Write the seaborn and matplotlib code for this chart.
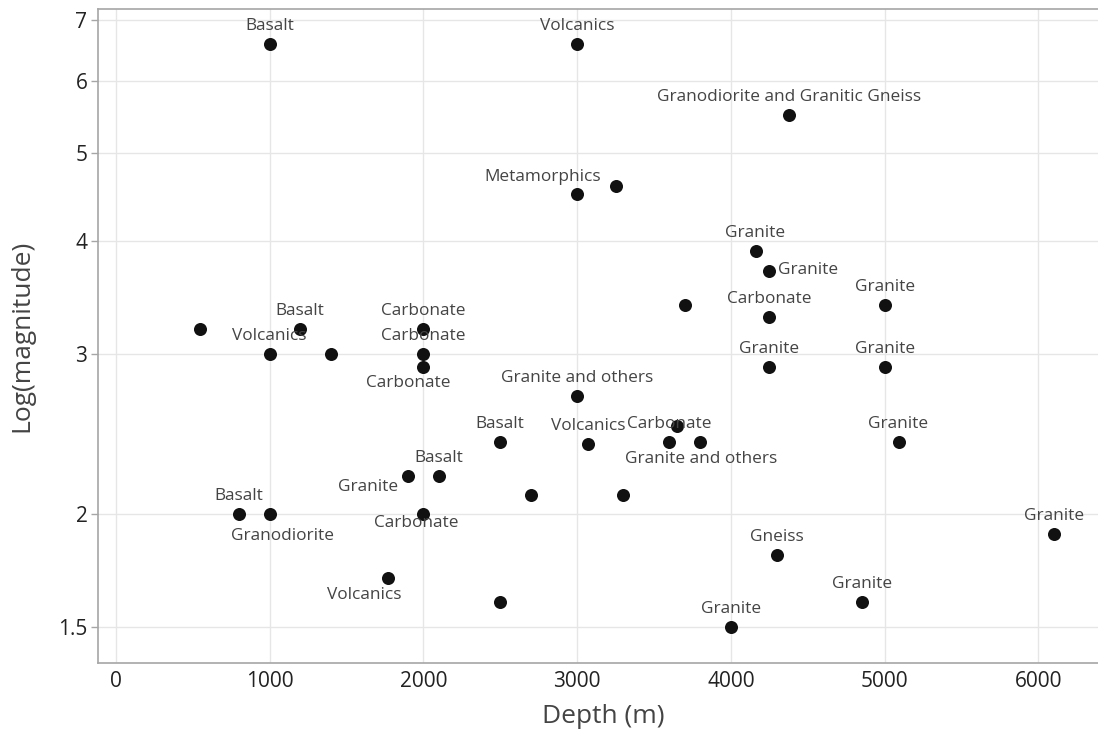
import matplotlib
matplotlib.use("Agg")
import matplotlib.pyplot as plt
import seaborn as sns
import pandas as pd

# Depth (m) and magnitude of each sample, with its rock type
depth = [1000, 3000, 4380, 3000, 3250, 4160, 4250, 3700, 4250, 5000,
         4250, 5000, 550, 1200, 1000, 1400, 2000, 2000, 2000, 3000,
         2500, 3070, 3650, 3600, 3800, 5090, 1900, 2100, 2700, 3300,
         800, 1000, 2000, 6100, 4300, 1770, 2500, 4850, 4000]
magnitude = [6.6, 6.6, 5.5, 4.5, 4.6, 3.9, 3.7, 3.4, 3.3, 3.4,
             2.9, 2.9, 3.2, 3.2, 3.0, 3.0, 3.2, 3.0, 2.9, 2.7,
             2.4, 2.39, 2.5, 2.4, 2.4, 2.4, 2.2, 2.2, 2.1, 2.1,
             2.0, 2.0, 2.0, 1.9, 1.8, 1.7, 1.6, 1.6, 1.5]
rock = ["Basalt", "Volcanics", "Granodiorite and Granitic Gneiss", "Metamorphics", "",
        "Granite", "Granite", "", "Carbonate", "Granite",
        "Granite", "Granite", "", "Basalt", "Volcanics",
        "", "Carbonate", "Carbonate", "Carbonate", "Granite and others",
        "Basalt", "Volcanics", "", "Carbonate", "Granite and others",
        "Granite", "Granite", "Basalt", "", "",
        "Basalt", "Granodiorite", "Carbonate", "Granite", "Gneiss",
        "Volcanics", "", "Granite", "Granite"]

y_ticks = [1.5, 2, 3, 4, 5, 6, 7]
y_tick_labels = ["1.5", "2", "3", "4", "5", "6", "7"]
x_ticks = [0, 1000, 2000, 3000, 4000, 5000, 6000]

# label placement relative to its marker: (dx px, dy px, horizontal alignment)
TOP = (0, 14, "center")
placement = [TOP, TOP, TOP, (-34, 13, "center"), None,
             TOP, (9, -3, "left"), None, TOP, TOP,
             TOP, TOP, None, TOP, TOP,
             None, TOP, TOP, (-15, -20, "center"), TOP,
             TOP, TOP, None, TOP, (1, -21, "center"),
             TOP, (-10, -15, "right"), TOP, None, None,
             TOP, (13, -26, "center"), (-7, -13, "center"), TOP, TOP,
             (-24, -21, "center"), None, TOP, TOP]

df = pd.DataFrame({"Depth (m)": depth, "Log(magnitude)": magnitude, "Rock": rock})

sns.set_theme(style="white")
plt.rcParams["font.family"] = ["Open Sans", "DejaVu Sans"]

fig = plt.figure(figsize=(10.98, 7.31), dpi=100)
ax = fig.add_axes([0.0897, 0.093, 1.0 - 0.0897, 0.9877 - 0.093])

sns.scatterplot(data=df, x="Depth (m)", y="Log(magnitude)", ax=ax,
                color="#111111", s=88, linewidth=0, zorder=3)

ax.set_yscale("log")
ax.set_xlim(-112, 6387)
ax.set_ylim(1.369, 7.206)
ax.set_yticks(y_ticks)
ax.set_yticklabels(y_tick_labels)
ax.yaxis.set_minor_locator(matplotlib.ticker.NullLocator())
ax.set_xticks(x_ticks)
ax.set_xticklabels([str(t) for t in x_ticks])

ax.grid(True, color="#e6e6e6", linewidth=1.0, zorder=0)
ax.set_axisbelow(True)

for side in ["left", "bottom", "top"]:
    ax.spines[side].set_visible(True)
    ax.spines[side].set_color("#a6a6a6")
    ax.spines[side].set_linewidth(1.2)
ax.spines["right"].set_visible(False)

ax.tick_params(axis="y", which="major", length=5, width=1, color="#a6a6a6",
               pad=3, labelsize=15, labelcolor="#222222", left=True)
ax.tick_params(axis="x", which="major", length=0, pad=6,
               labelsize=15, labelcolor="#222222")

ax.set_xlabel("Depth (m)", fontsize=19, color="#444444")
ax.set_ylabel("Log(magnitude)", fontsize=19, color="#444444")
ax.xaxis.set_label_coords(0.505, -0.062)
ax.yaxis.set_label_coords(-0.0645, 0.5)

for xv, yv, name, pos in zip(depth, magnitude, rock, placement):
    if not name or pos is None:
        continue
    dx, dy, ha = pos
    ax.annotate(name, (xv, yv), xytext=(dx, dy), textcoords="offset pixels",
                ha=ha, va="baseline", fontsize=12.4, color="#444444", zorder=4)

fig.savefig("out.png", dpi=100)
